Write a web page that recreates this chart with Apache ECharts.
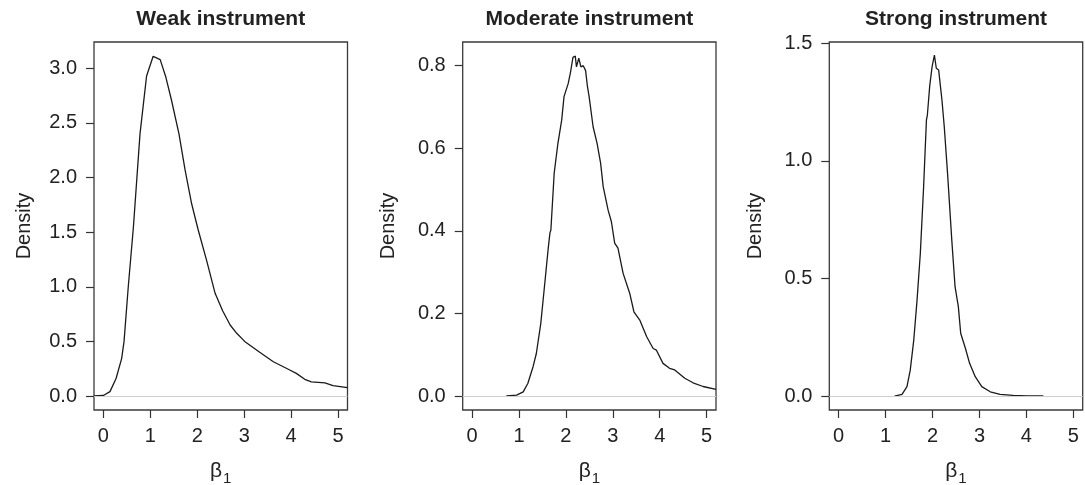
<!DOCTYPE html>
<html>
<head>
<meta charset="utf-8">
<script src="https://cdn.jsdelivr.net/npm/echarts@6/dist/echarts.min.js"></script>
<style>
html,body{margin:0;padding:0;background:#fff;}
#chart{width:1085px;height:485px;}
</style>
</head>
<body>
<div id="chart"></div>
<script>
// ---- Data ----
var titles = ["Weak instrument", "Moderate instrument", "Strong instrument"];
var xTicks = [0, 1, 2, 3, 4, 5];

var weakX = [-0.2, 0.0, 0.14, 0.27, 0.39, 0.44, 0.53, 0.64, 0.78, 0.92, 1.06, 1.21, 1.33, 1.45, 1.61, 1.74, 1.88, 2.02, 2.2, 2.38, 2.54, 2.7, 2.84, 3.01, 3.33, 3.62, 3.97, 4.11, 4.29, 4.43, 4.72, 4.89, 5.2];
var weakY = [0.0, 0.005, 0.04, 0.16, 0.345, 0.5, 1.0, 1.55, 2.4, 2.93, 3.11, 3.08, 2.92, 2.71, 2.4, 2.07, 1.76, 1.52, 1.24, 0.94, 0.78, 0.65, 0.574, 0.5, 0.4, 0.314, 0.238, 0.207, 0.153, 0.13, 0.12, 0.095, 0.077];
var weakYTicks = [0, 0.5, 1.0, 1.5, 2.0, 2.5, 3.0];

var modX = [0.73, 0.95, 1.09, 1.19, 1.3, 1.37, 1.465, 1.55, 1.62, 1.66, 1.68, 1.75, 1.83, 1.91, 1.96, 2.05, 2.1, 2.15, 2.2, 2.225, 2.275, 2.32, 2.37, 2.42, 2.46, 2.495, 2.53, 2.58, 2.665, 2.74, 2.76, 2.795, 2.9, 2.97, 3.04, 3.11, 3.22, 3.36, 3.45, 3.575, 3.72, 3.86, 3.9, 3.93, 4.07, 4.21, 4.32, 4.535, 4.71, 4.925, 5.2];
var modY = [0.0, 0.002, 0.01, 0.031, 0.071, 0.103, 0.176, 0.273, 0.354, 0.395, 0.402, 0.539, 0.612, 0.668, 0.725, 0.757, 0.785, 0.82, 0.823, 0.797, 0.818, 0.797, 0.8, 0.788, 0.749, 0.725, 0.729, 0.652, 0.612, 0.564, 0.566, 0.507, 0.45, 0.422, 0.37, 0.358, 0.297, 0.249, 0.204, 0.184, 0.144, 0.115, 0.118, 0.111, 0.079, 0.067, 0.063, 0.043, 0.032, 0.023, 0.016];
var modYTicks = [0, 0.2, 0.4, 0.6, 0.8];

var strongX = [1.19, 1.35, 1.455, 1.525, 1.6, 1.67, 1.74, 1.81, 1.87, 1.89, 1.94, 1.99, 2.04, 2.08, 2.13, 2.2, 2.25, 2.32, 2.41, 2.48, 2.55, 2.6, 2.7, 2.79, 2.91, 3.05, 3.23, 3.44, 3.72, 4.01, 4.36];
var strongY = [0.0, 0.007, 0.04, 0.11, 0.238, 0.408, 0.607, 0.89, 1.174, 1.195, 1.319, 1.4, 1.45, 1.394, 1.387, 1.26, 1.145, 0.947, 0.664, 0.465, 0.38, 0.267, 0.203, 0.139, 0.082, 0.04, 0.018, 0.007, 0.003, 0.0, 0.0];
var strongYTicks = [0, 0.5, 1.0, 1.5];

// ---- Layout ----
function zip(xs, ys) { return xs.map(function (x, i) { return [x, ys[i]]; }); }

var panels = [
  {left: 94,    width: 253.5, yMin: -0.128, yMax: 3.241,  yTicks: weakYTicks,   data: zip(weakX, weakY),     nameGap: 60},
  {left: 462.7, width: 253.3, yMin: -0.0339, yMax: 0.8573, yTicks: modYTicks,   data: zip(modX, modY),       nameGap: 64},
  {left: 829.3, width: 253.4, yMin: -0.0595, yMax: 1.5057, yTicks: strongYTicks, data: zip(strongX, strongY), nameGap: 64}
];

var TOP = 42, HEIGHT = 368;
var textColor = '#222';
var font = 'Liberation Sans, Arial, Helvetica, sans-serif';

var option = {
  backgroundColor: '#fff',
  animation: false,
  title: [],
  grid: [],
  xAxis: [],
  yAxis: [],
  series: []
};

panels.forEach(function (p, i) {
  option.title.push({
    text: titles[i],
    left: p.left + p.width / 2,
    top: 9,
    padding: 0,
    textAlign: 'center',
    textStyle: {fontFamily: font, fontSize: 21, fontWeight: 'bold', color: textColor}
  });
  option.grid.push({
    left: p.left, top: TOP, width: p.width, height: HEIGHT,
    show: true, borderColor: '#3a3a3a', borderWidth: 1.3, backgroundColor: 'transparent',
    containLabel: false, outerBoundsMode: 'none'
  });
  option.xAxis.push({
    type: 'value', gridIndex: i, min: -0.2, max: 5.2, position: 'bottom',
    name: '{b|β}{s|1}', nameLocation: 'middle', nameGap: 47,
    nameTextStyle: {
      rich: {
        b: {fontFamily: font, fontSize: 21, color: textColor},
        s: {fontFamily: font, fontSize: 15, color: textColor, padding: [14, 0, 0, 1]}
      }
    },
    axisLine: {show: false, onZero: false},
    axisTick: {show: true, inside: false, length: 8, customValues: xTicks, lineStyle: {color: '#333', width: 1.2}},
    axisLabel: {customValues: xTicks, inside: false, margin: 16, fontFamily: font, fontSize: 20, color: textColor},
    splitLine: {show: false}
  });
  option.yAxis.push({
    type: 'value', gridIndex: i, min: p.yMin, max: p.yMax, position: 'left',
    name: 'Density', nameLocation: 'middle', nameGap: p.nameGap, nameRotate: 90,
    nameTextStyle: {fontFamily: font, fontSize: 20, color: textColor},
    axisLine: {show: false, onZero: false},
    axisTick: {show: true, inside: false, length: 8, customValues: p.yTicks, lineStyle: {color: '#333', width: 1.2}},
    axisLabel: {customValues: p.yTicks, inside: false, margin: 17, fontFamily: font, fontSize: 20, color: textColor,
      formatter: function (v) { return Number(v).toFixed(1); }},
    splitLine: {show: false}
  });
  option.series.push({
    type: 'line', xAxisIndex: i, yAxisIndex: i,
    data: p.data, showSymbol: false, symbol: 'none', smooth: false, clip: true,
    lineStyle: {color: '#1a1a1a', width: 1.3},
    markLine: {
      silent: true, symbol: 'none', label: {show: false},
      lineStyle: {color: '#cfcfcf', width: 1, type: 'solid'},
      data: [{yAxis: 0}]
    },
    z: 3
  });
});

var chart = echarts.init(document.getElementById('chart'), null, {renderer: 'canvas'});
chart.setOption(option);
</script>
</body>
</html>
